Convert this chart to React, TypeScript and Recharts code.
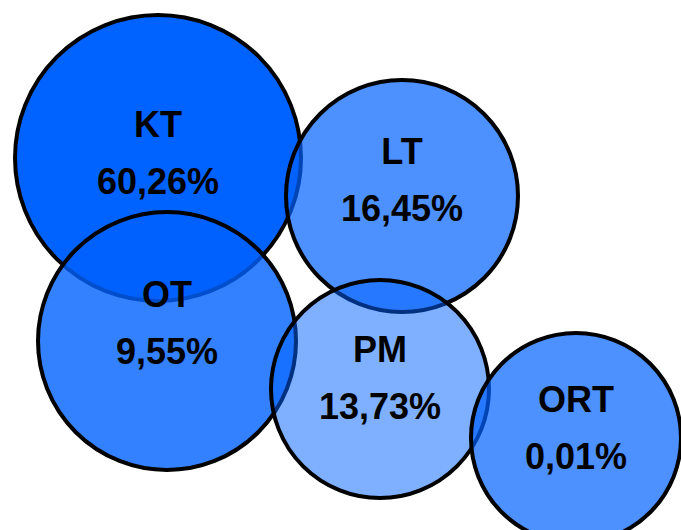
import { ScatterChart, Scatter, XAxis, YAxis } from 'recharts';

const categories = ['KT', 'LT', 'OT', 'PM', 'ORT'];
const shares = ['60,26%', '16,45%', '9,55%', '13,73%', '0,01%'];
// bubble centres and radii in chart units (1 unit = 1px)
const centerX = [158, 402, 167, 380, 576];
const centerY = [158, 196, 341, 389, 438];
const radius = [143, 116, 129, 109, 105];
const labelY = [137, 164, 307, 362, 412];

const fillOpacity = [1, 0.7, 0.8, 0.5, 0.7];

const W = 681;
const H = 530;

const data = categories.map((name, i) => ({
  name,
  share: shares[i],
  x: centerX[i],
  y: centerY[i],
  r: radius[i],
  ly: labelY[i],
  idx: i,
}));

const Bubble = (props: any) => {
  const { cx, cy, payload } = props;
  const r = payload.r * (W / W);
  const y1 = cy + (payload.ly - payload.y);
  return (
    <g>
      <circle cx={cx} cy={cy} r={r} fill="#0062FF" fillOpacity={fillOpacity[payload.idx]} stroke="#000" strokeWidth={4} />
      <text x={cx} y={y1} textAnchor="middle" fontFamily="Liberation Sans" fontWeight="bold" fontSize={36} fill="#000">
        {payload.name}
      </text>
      <text x={cx} y={y1 + 57} textAnchor="middle" fontFamily="Liberation Sans" fontWeight="bold" fontSize={36} fill="#000">
        {payload.share}
      </text>
    </g>
  );
};

export default function App() {
  return (
    <div style={{ position: 'absolute', left: 0, top: 0, background: '#fff' }}>
      <ScatterChart width={W} height={H} margin={{ top: 0, right: 0, bottom: 0, left: 0 }}>
        <XAxis type="number" dataKey="x" domain={[0, W]} hide />
        <YAxis type="number" dataKey="y" domain={[0, H]} reversed hide />
        <Scatter data={data} shape={<Bubble />} isAnimationActive={false} />
      </ScatterChart>
    </div>
  );
}
